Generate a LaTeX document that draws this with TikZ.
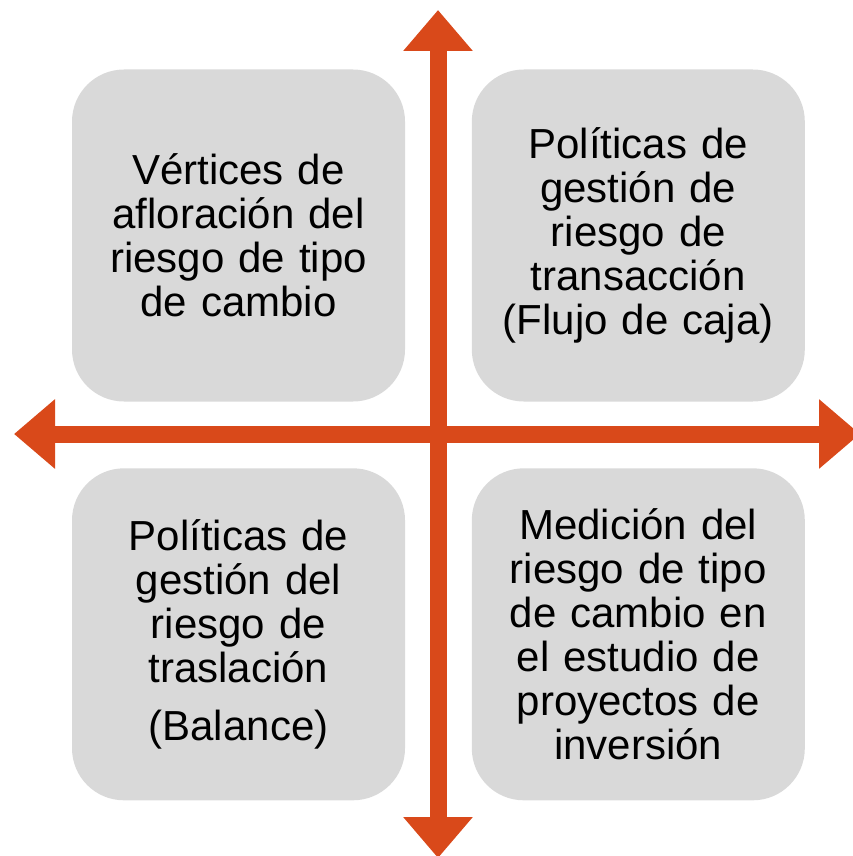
\documentclass[tikz,border=0pt]{standalone}
\usepackage{fontspec}
\setmainfont{Liberation Sans}
\usepackage{tikz}
\usetikzlibrary{arrows.meta,positioning}
\definecolor{axisred}{RGB}{217,73,26}
\definecolor{boxgray}{RGB}{217,217,217}
\tikzset{%
	quadnode/.style={rectangle, rounded corners=26pt, fill=boxgray, minimum width=166.5pt, minimum height=166pt, text width=160pt, align=center, inner sep=0pt, font=\fontsize{21}{22}\selectfont},
	axis/.style={draw=axisred, line width=8.5pt, {Triangle[width=33.5pt,length=20.5pt]}-{Triangle[width=33.5pt,length=20.5pt]}}
}

\begin{document}
\begin{tikzpicture}[x=0.5pt, y=-0.5pt, node distance=33pt]
		\useasboundingbox (0,0) rectangle (852,856);
		\node[quadnode] (vert) at (238.5,235.5) {V\'ertices de\\ afloraci\'on del\\ riesgo de tipo\\ de cambio};
		\node[quadnode] (trans) [right=of vert] {Pol\'iticas de\\ gesti\'on de\\ riesgo de\\ transacci\'on\\ (Flujo de caja)};
		\node[quadnode] (trasl) [below=of vert] {Pol\'iticas de\\ gesti\'on del\\ riesgo de\\ traslaci\'on\\[7pt] (Balance)};
		\node[quadnode] (medic) [below=of trans] {Medici\'on del\\ riesgo de tipo\\ de cambio en\\ el estudio de\\ proyectos de\\ inversi\'on};
		
		\coordinate (north) at (438,10);
		\coordinate (south) at (438,858);
		\coordinate (west) at (14,434);
		\coordinate (east) at (860,434);
		
		\path[axis] (north) -- (south);
		\path[axis] (west) -- (east);
	\end{tikzpicture}
\end{document}
